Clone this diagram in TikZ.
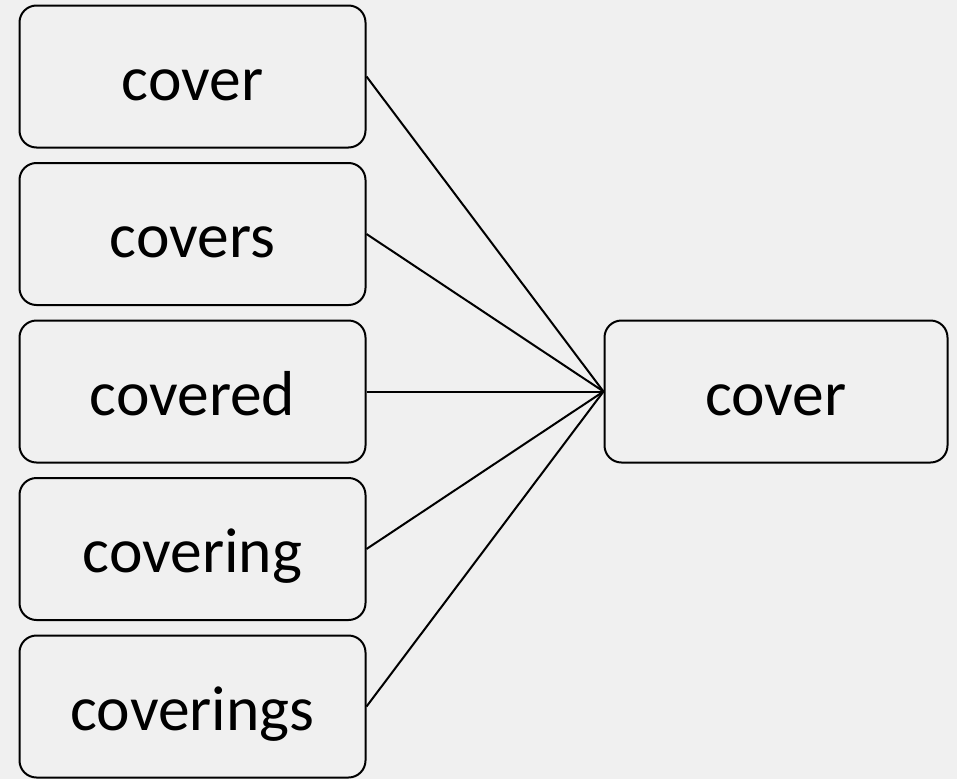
\documentclass[tikz,border=0pt]{standalone}
\usepackage{fontspec}
\setmainfont{Carlito}
\definecolor{bgcol}{HTML}{F0F0F0}
\tikzset{
  wordbox/.style={draw=black, line width=2pt, rounded corners=17pt, inner sep=0pt,
    minimum width=346pt, minimum height=142pt, text height=47pt, text depth=0pt,
    font=\fontsize{63.5}{72}\selectfont, text=black},
  link/.style={draw=black, line width=2pt}
}
\begin{document}
\begin{tikzpicture}[x=1pt,y=-1pt]
\fill[bgcol] (0,0) rectangle (957,779);
\useasboundingbox (0,0) rectangle (957,779);
\node[wordbox] (w1) at (192.5,76.5) {cover};
\node[wordbox] (w2) at (192.5,234) {covers};
\node[wordbox] (w3) at (192.5,391.5) {covered};
\node[wordbox] (w4) at (192.5,549) {covering};
\node[wordbox] (w5) at (192.5,706.5) {coverings};
\node[wordbox, minimum width=343pt] (r) at (776,391.5) {cover};
\foreach \n in {w1,w2,w3,w4,w5} \draw[link] (\n.east) -- (r.west);
\end{tikzpicture}
\end{document}
